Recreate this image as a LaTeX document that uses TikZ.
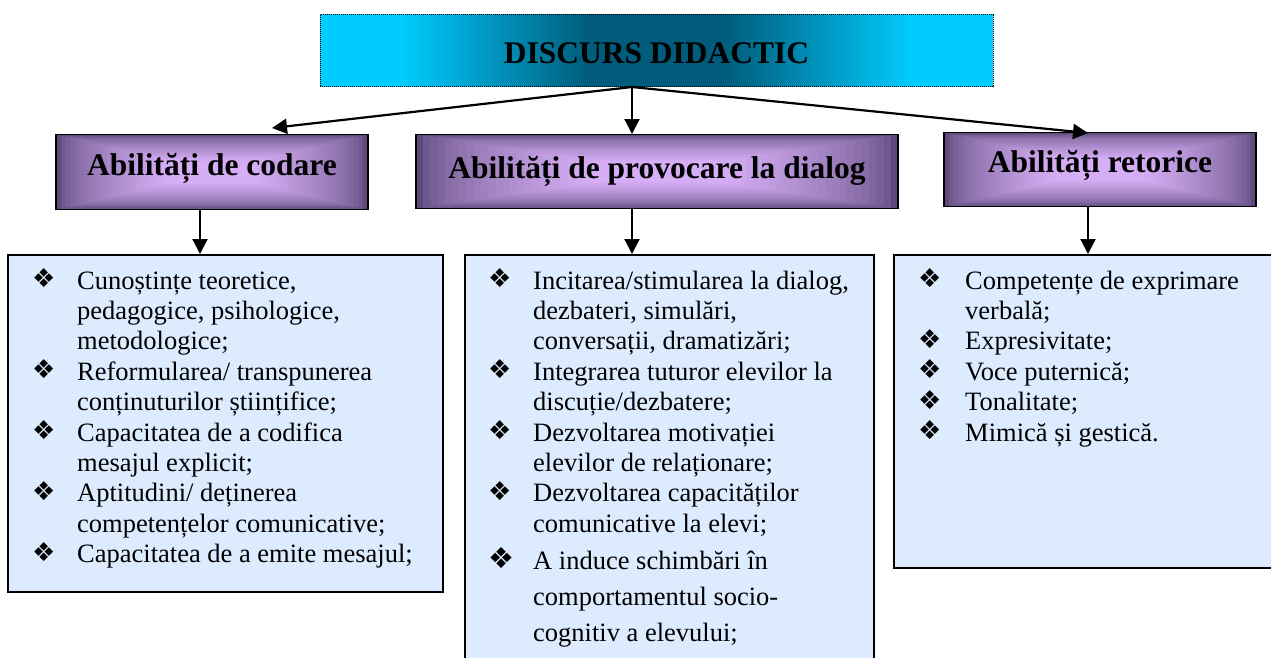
\documentclass[tikz,border=0pt]{standalone}
\usepackage{fontspec}
\setmainfont{Liberation Serif}
\newfontfamily\dejavu{DejaVu Sans}
\usetikzlibrary{arrows.meta,calc}
\definecolor{cyanA}{RGB}{0,204,255}
\definecolor{tealA}{RGB}{0,92,122}
\definecolor{dpurp}{RGB}{92,72,122}
\definecolor{lav}{RGB}{214,174,246}
\definecolor{paleblue}{RGB}{221,235,255}
\pgfdeclarehorizontalshading{discshade}{100bp}{color(0bp)=(cyanA); color(31bp)=(cyanA); color(45bp)=(tealA); color(55bp)=(tealA); color(69bp)=(cyanA); color(100bp)=(cyanA)}
\newcommand\bul{\raisebox{1.5pt}{\dejavu\fontsize{26}{26}\selectfont ❖}}
\newcommand\bigbul{\raisebox{1.5pt}{\dejavu\fontsize{29}{29}\selectfont ❖}}
\begin{document}
\begin{tikzpicture}[x=1pt,y=-1pt,
  topbox/.style={draw=black, densely dotted, line width=1pt, shading=discshade, inner ysep=0pt,
    font=\fontsize{31.5}{36}\bfseries\selectfont},
  purplebox/.style={draw=black, line width=1.3pt, fill=dpurp, inner ysep=0pt,
    font=\fontsize{31.5}{36}\bfseries\selectfont,
    path picture={
      \foreach \k in {0,...,24}{
        \pgfmathsetmacro{\p}{100*(\k/24)^0.6}
        \pgfmathsetmacro{\f}{0.36*\k/24}
        \fill[lav!\p!dpurp] ($(path picture bounding box.south west)!\f!(path picture bounding box.north east)$) rectangle ($(path picture bounding box.north east)!\f!(path picture bounding box.south west)$);
      }}},
  bluebox/.style={draw=black, line width=1.5pt, fill=paleblue, inner sep=0pt},
  listtext/.style={inner sep=0pt, font=\fontsize{26.5}{30.4}\selectfont},
  arr/.style={line width=2.2pt, -{Triangle[width=15pt,length=15pt]}}
]
\useasboundingbox (0,0) rectangle (1271,657);
\clip (0,0) rectangle (1271,657);

% top
\node[topbox, anchor=north, minimum width=673pt, text height=49pt, text depth=23pt] (top) at (656.5,14) {DISCURS DIDACTIC};

% purple boxes
\node[purplebox, anchor=north, minimum width=312pt, text height=41pt, text depth=34pt] (b1) at (212,134) {Abilități de codare};
\node[purplebox, anchor=north, minimum width=482pt, text height=44pt, text depth=30pt] (b2) at (657,134) {Abilități de provocare la dialog};
\node[purplebox, anchor=north, minimum width=312pt, text height=40pt, text depth=34pt] (b3) at (1100,132) {Abilități retorice};

% blue boxes
\node[bluebox, anchor=north west, minimum width=435pt, minimum height=337pt] (l1) at (7,254) {};
\node[bluebox, anchor=north west, minimum width=409pt, minimum height=420pt] (m1) at (464,254) {};
\node[bluebox, anchor=north west, minimum width=400pt, minimum height=313pt] (r1) at (893,254) {};

% lists
\node[listtext, anchor=north west] (lt) at (32,267.7) {\begin{tabular}{@{}p{45pt}@{}l@{}}
\bul & Cunoștințe teoretice,\\
 & pedagogice, psihologice,\\
 & metodologice;\\
\bul & Reformularea/ transpunerea\\
 & conținuturilor științifice;\\
\bul & Capacitatea de a codifica\\
 & mesajul explicit;\\
\bul & Aptitudini/ deținerea\\
 & competențelor comunicative;\\
\bul & Capacitatea de a emite mesajul;
\end{tabular}};
\node[listtext, anchor=north west] (mt) at (488,267.7) {\begin{tabular}{@{}p{45pt}@{}l@{}}
\bul & Incitarea/stimularea la dialog,\\
 & dezbateri, simulări,\\
 & conversații, dramatizări;\\
\bul & Integrarea tuturor elevilor la\\
 & discuție/dezbatere;\\
\bul & Dezvoltarea motivației\\
 & elevilor de relaționare;\\
\bul & Dezvoltarea capacităților\\
 & comunicative la elevi;\\[5.6pt]
\bigbul & A induce schimbări în\\[5.6pt]
 & comportamentul socio-\\[5.6pt]
 & cognitiv a elevului;
\end{tabular}};
\node[listtext, anchor=north west] (rt) at (918,267.7) {\begin{tabular}{@{}p{47pt}@{}l@{}}
\bul & Competențe de exprimare\\
 & verbală;\\
\bul & Expresivitate;\\
\bul & Voce puternică;\\
\bul & Tonalitate;\\
\bul & Mimică și gestică.
\end{tabular}};

% connectors
\coordinate (xo) at (632,0);
\coordinate (x1) at (200,0);
\coordinate (x3) at (1088,0);
\coordinate (o) at (xo |- top.south);
\draw[arr] (o) -- ($(b1.north)+(60,-6)$);
\draw[arr] (o) -- (xo |- b2.north);
\draw[arr] (o) -- ($(b3.north)+(-12,1)$);
\draw[arr] (x1 |- b1.south) -- (x1 |- l1.north);
\draw[arr] (xo |- b2.south) -- (xo |- m1.north);
\draw[arr] (x3 |- b3.south) -- (x3 |- r1.north);
\end{tikzpicture}
\end{document}
